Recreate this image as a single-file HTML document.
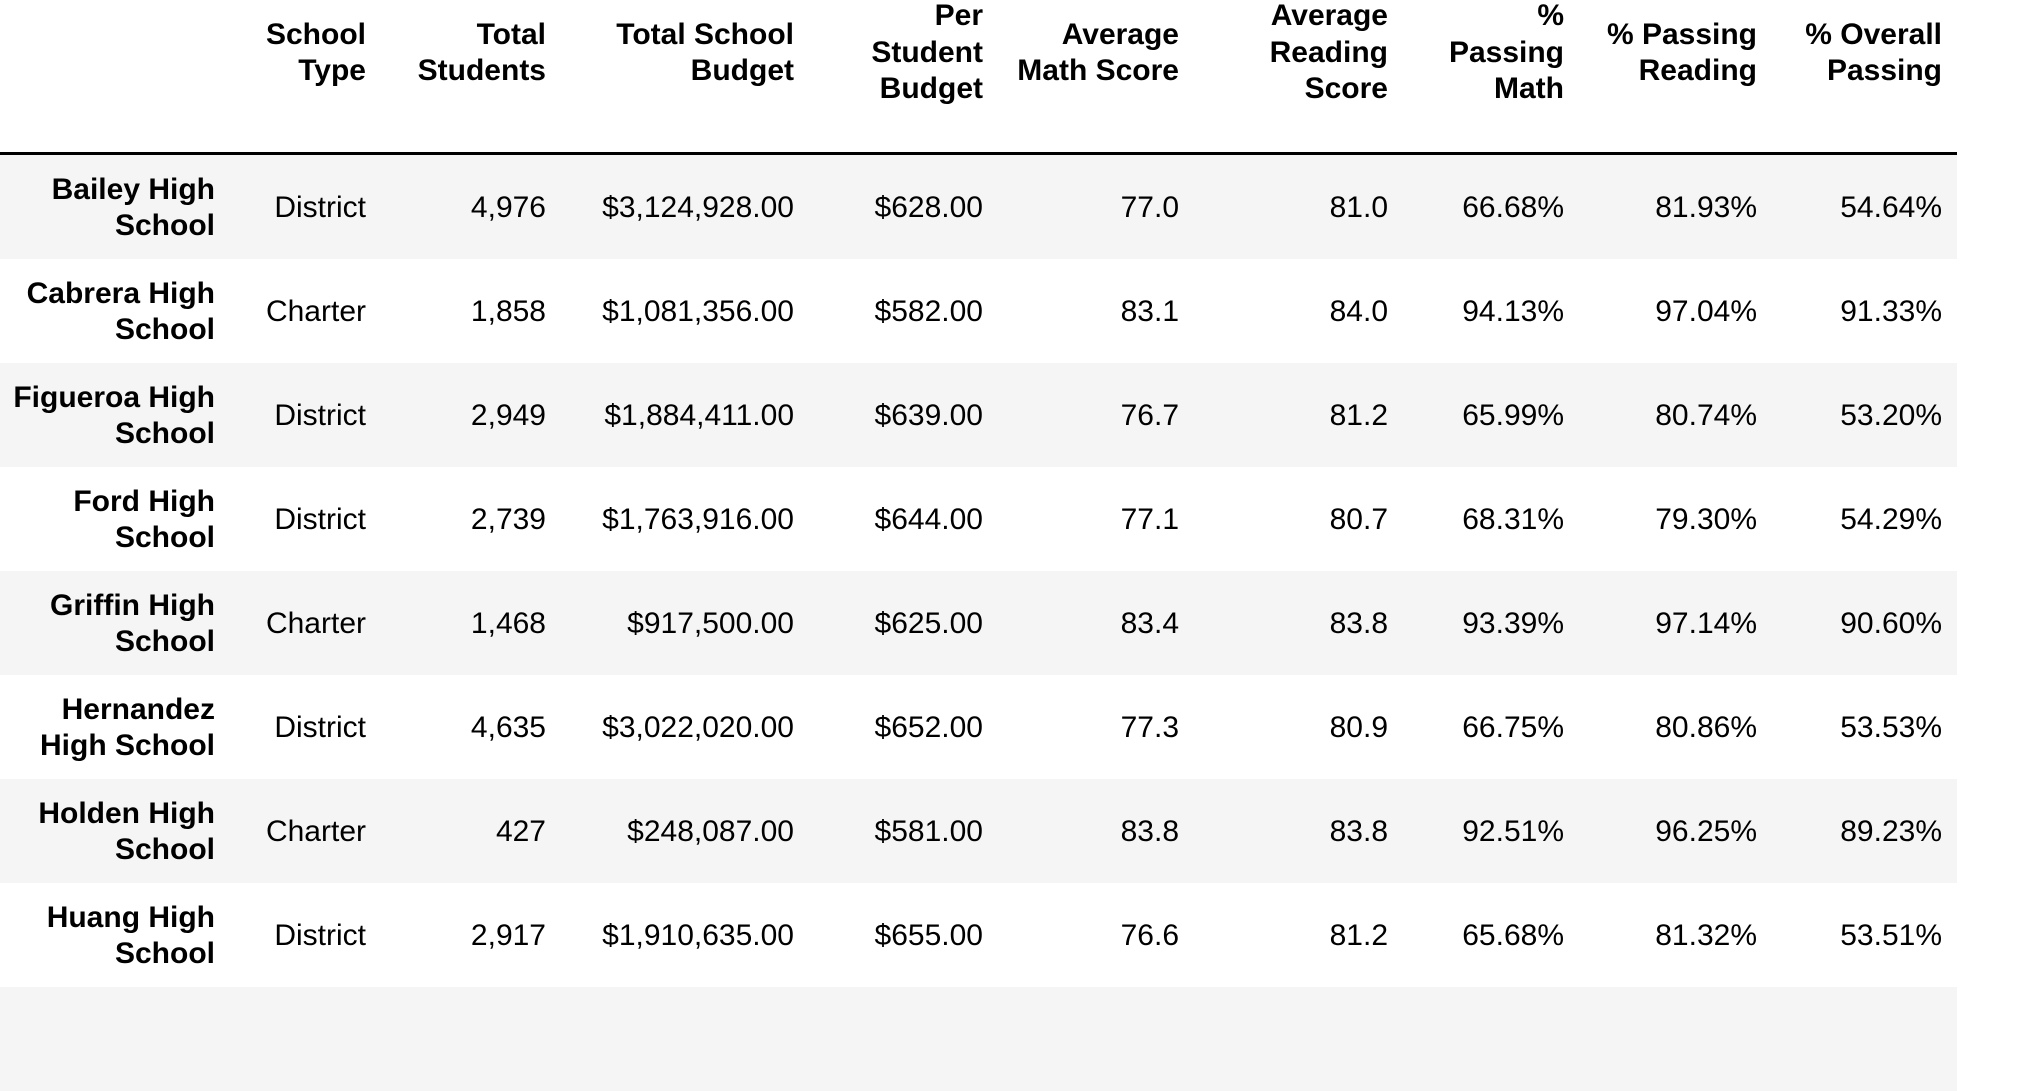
<!DOCTYPE html>
<html><head><meta charset="utf-8">
<style>
html,body{margin:0;padding:0;background:#fff;}
body{width:2042px;height:994px;overflow:hidden;position:relative;font-family:"Liberation Sans",Arial,sans-serif;color:#000;}
.c{position:absolute;text-align:right;font-size:30px;line-height:36.5px;white-space:nowrap;}
.h{font-weight:bold;}
.row{position:absolute;left:0;width:1957px;height:104px;}
</style></head><body>
<div id="table"></div>
<script>
const headers=["School<br>Type","Total<br>Students","Total School<br>Budget","Per<br>Student<br>Budget","Average<br>Math Score","Average<br>Reading<br>Score","%<br>Passing<br>Math","% Passing<br>Reading","% Overall<br>Passing"];
const schools=["Bailey High<br>School","Cabrera High<br>School","Figueroa High<br>School","Ford High<br>School","Griffin High<br>School","Hernandez<br>High School","Holden High<br>School","Huang High<br>School"];
const schoolType=["District","Charter","District","District","Charter","District","Charter","District"];
const totalStudents=["4,976","1,858","2,949","2,739","1,468","4,635","427","2,917"];
const totalBudget=["$3,124,928.00","$1,081,356.00","$1,884,411.00","$1,763,916.00","$917,500.00","$3,022,020.00","$248,087.00","$1,910,635.00"];
const perStudent=["$628.00","$582.00","$639.00","$644.00","$625.00","$652.00","$581.00","$655.00"];
const avgMath=["77.0","83.1","76.7","77.1","83.4","77.3","83.8","76.6"];
const avgReading=["81.0","84.0","81.2","80.7","83.8","80.9","83.8","81.2"];
const passMath=["66.68%","94.13%","65.99%","68.31%","93.39%","66.75%","92.51%","65.68%"];
const passReading=["81.93%","97.04%","80.74%","79.30%","97.14%","80.86%","96.25%","81.32%"];
const passOverall=["54.64%","91.33%","53.20%","54.29%","90.60%","53.53%","89.23%","53.51%"];
const cols=[schoolType,totalStudents,totalBudget,perStudent,avgMath,avgReading,passMath,passReading,passOverall];
const colNames=["school-type","total-students","total-budget","per-student-budget","avg-math","avg-reading","pct-passing-math","pct-passing-reading","pct-overall-passing"];
const rightEdges=[215,366,546,794,983,1179,1388,1564,1757,1942];
const headTop=154,rowH=104,lh=36.5;
const T=document.getElementById('table');
function cell(html,right,cy,bold){
  const d=document.createElement('div');
  d.className='c'+(bold?' h':'');
  d.innerHTML=html;
  const lines=html.split('<br>').length;
  d.style.right=(2042-right)+'px';
  d.style.top=(cy-lines*lh/2)+'px';
  T.appendChild(d);return d;
}
headers.forEach((h,i)=>{
  const d=cell(h,rightEdges[i+1],53,true);
  
  
});
const line=document.createElement('div');
line.style.cssText='position:absolute;left:0;top:152px;width:1957px;height:3px;background:#000;';


T.appendChild(line);
for(let r=0;r<9;r++){
  const row=document.createElement('div');
  row.className='row';
  row.style.top=(headTop+1+r*rowH)+'px';
  row.style.background=r%2===0?'#f5f5f5':'#fff';
  
  
  T.appendChild(row);
}
schools.forEach((s,r)=>{
  const cy=headTop+r*rowH+rowH/2+2;
  const d=cell(s,rightEdges[0],cy,true);
  
  
  cols.forEach((col,i)=>{
    const e=cell(col[r],rightEdges[i+1],cy,false);
    
    
  });
});
</script>
</body></html>
